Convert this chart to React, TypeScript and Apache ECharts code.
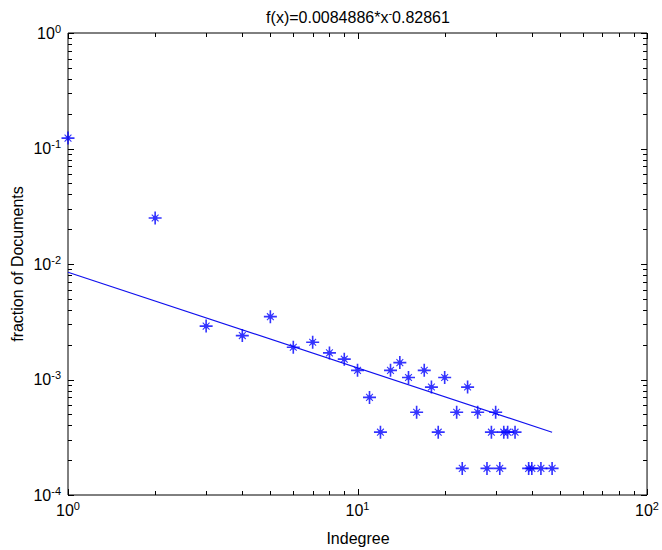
import React, { useEffect, useRef } from "react";
import * as echarts from "echarts";

// ---- data ----
const indegree = [1, 2, 3, 4, 5, 6, 7, 8, 9, 10, 11, 12, 13, 14, 15, 16, 17, 18, 19, 20, 22, 23, 24, 26, 28, 29, 30, 31, 32, 33, 35, 39, 40, 43, 47];
const fraction = [0.123, 0.025, 0.0029, 0.0024, 0.0035, 0.0019, 0.0021, 0.0017, 0.0015, 0.0012, 0.0007, 0.00035, 0.0012, 0.0014, 0.00104, 0.00052, 0.0012, 0.00086, 0.00035, 0.00104, 0.00052, 0.00017, 0.00086, 0.00052, 0.00017, 0.00035, 0.00052, 0.00017, 0.00035, 0.00035, 0.00035, 0.00017, 0.00017, 0.00017, 0.00017];
const fitX = [1, 47];
const fitY = [0.0084886, 0.000349];

// ---- tick values ----
const xMajorTicks = [1, 10, 100];
const yMajorTicks = [0.0001, 0.001, 0.01, 0.1, 1];
const minorSteps = [2, 3, 4, 5, 6, 7, 8, 9];
const xDecades = [1, 10];
const yDecades = [0.0001, 0.001, 0.01, 0.1];

const FONT = "'Liberation Sans', Arial, sans-serif";
// asterisk marker: thick plus, thinner diagonals, centre dot (all same winding)
const STAR =
  "path://M10.5,0H13.5V24H10.5Z M0,10.5H24V13.5H0Z M8,8H16V16H8Z M5,6.4L6.4,5L19,17.6L17.6,19Z M17.6,5L19,6.4L6.4,19L5,17.6Z";

const expRich = {
  b: { fontSize: 16, fontFamily: FONT, color: "#000" },
  s: { fontSize: 11, fontFamily: FONT, color: "#000", padding: [0, 0, 9, 0] },
};
const expLabel = (v: number) => `{b|10}{s|${Math.round(Math.log10(v))}}`;

export default function App() {
  const ref = useRef<HTMLDivElement>(null);
  useEffect(() => {
    if (!ref.current) return;
    const chart = echarts.init(ref.current, undefined, { renderer: "svg" });

    const xTickData: number[][] = [];
    xMajorTicks.forEach((v) => xTickData.push([v, 0.0001, 1]));
    xDecades.forEach((d) => minorSteps.forEach((m) => xTickData.push([m * d, 0.0001, 0])));
    const yTickData: number[][] = [];
    yMajorTicks.forEach((v) => yTickData.push([1, v, 1]));
    yDecades.forEach((d) => minorSteps.forEach((m) => yTickData.push([1, m * d, 0])));

    const MAJ = 6;
    const MIN = 4;

    chart.setOption({
      animation: false,
      backgroundColor: "#fff",
      grid: {
        left: 68,
        right: 10,
        top: 33,
        bottom: 55,
        show: true,
        borderColor: "#000",
        borderWidth: 1,
        backgroundColor: "#fff",
      },
      xAxis: {
        type: "log",
        logBase: 10,
        min: 1,
        max: 100,
        axisLine: { show: false },
        axisTick: { show: false },
        splitLine: { show: false },
        axisLabel: {
          formatter: expLabel,
          rich: expRich,
          margin: 5,
          showMinLabel: true,
          showMaxLabel: true,
        },
      },
      yAxis: {
        type: "log",
        logBase: 10,
        min: 0.0001,
        max: 1,
        axisLine: { show: false },
        axisTick: { show: false },
        splitLine: { show: false },
        axisLabel: {
          formatter: expLabel,
          rich: expRich,
          margin: 7,
          showMinLabel: true,
          showMaxLabel: true,
        },
      },
      graphic: [
        {
          type: "text",
          x: 358,
          y: 17,
          style: {
            text: "{a|f(x)=0.0084886*x}{s|-}{a|0.82861}",
            rich: {
              a: { fontSize: 16, fontFamily: FONT, fill: "#000" },
              s: { fontSize: 11, fontFamily: FONT, fill: "#000", padding: [0, 0, 9, 0] },
            },
            align: "center",
            verticalAlign: "middle",
          },
        },
        {
          type: "text",
          x: 358,
          y: 538,
          style: {
            text: "Indegree",
            fontSize: 16,
            fontFamily: FONT,
            fill: "#000",
            align: "center",
            verticalAlign: "middle",
          },
        },
        {
          type: "text",
          x: 17,
          y: 264,
          rotation: Math.PI / 2,
          style: {
            text: "fraction of Documents",
            fontSize: 16,
            fontFamily: FONT,
            fill: "#000",
            align: "center",
            verticalAlign: "middle",
          },
        },
      ],
      series: [
        {
          type: "custom",
          coordinateSystem: "cartesian2d",
          silent: true,
          z: 5,
          data: xTickData,
          renderItem: (_p: any, api: any) => {
            const v = api.value(0);
            const len = api.value(2) ? MAJ : MIN;
            const b = api.coord([v, 0.0001]);
            const t = api.coord([v, 1]);
            const x = Math.round(b[0]) + 0.5;
            return {
              type: "group",
              children: [
                { type: "line", shape: { x1: x, y1: b[1], x2: x, y2: b[1] - len }, style: { stroke: "#000", lineWidth: 1 } },
                { type: "line", shape: { x1: x, y1: t[1], x2: x, y2: t[1] + len }, style: { stroke: "#000", lineWidth: 1 } },
              ],
            };
          },
        },
        {
          type: "custom",
          coordinateSystem: "cartesian2d",
          silent: true,
          z: 5,
          data: yTickData,
          renderItem: (_p: any, api: any) => {
            const v = api.value(1);
            const len = api.value(2) ? MAJ : MIN;
            const l = api.coord([1, v]);
            const r = api.coord([100, v]);
            const y = Math.round(l[1]) + 0.5;
            return {
              type: "group",
              children: [
                { type: "line", shape: { x1: l[0], y1: y, x2: l[0] + len, y2: y }, style: { stroke: "#000", lineWidth: 1 } },
                { type: "line", shape: { x1: r[0], y1: y, x2: r[0] - len, y2: y }, style: { stroke: "#000", lineWidth: 1 } },
              ],
            };
          },
        },
        {
          type: "line",
          data: fitX.map((x, i) => [x, fitY[i]]),
          showSymbol: false,
          symbol: "none",
          lineStyle: { color: "#1010ee", width: 1.2 },
          z: 3,
        },
        {
          type: "scatter",
          data: indegree.map((x, i) => [x, fraction[i]]),
          symbol: STAR,
          symbolSize: 13,
          itemStyle: { color: "#0000ff" },
          z: 4,
          clip: false,
        },
      ],
    });
    return () => chart.dispose();
  }, []);
  return (
    <div
      ref={ref}
      style={{ position: "fixed", left: 0, top: 0, width: 662, height: 550, background: "#fff" }}
    />
  );
}
